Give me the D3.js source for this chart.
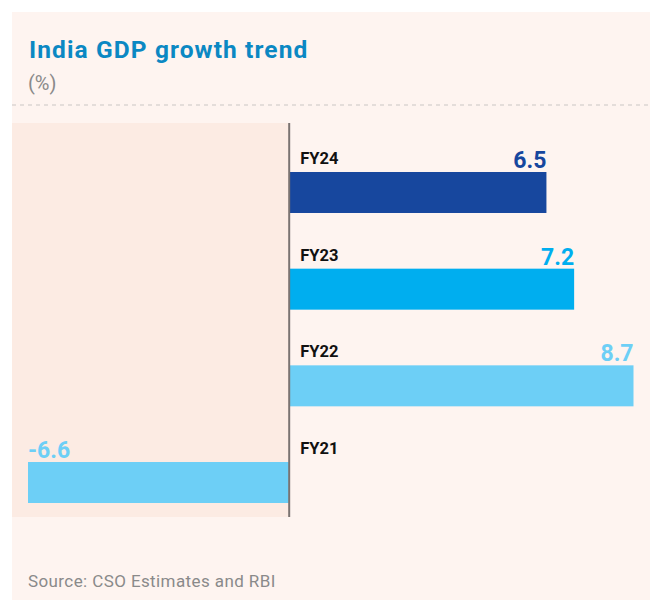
<!DOCTYPE html>
<html>
<head>
<meta charset="utf-8">
<script src="https://cdn.jsdelivr.net/npm/d3@7"></script>
<style>
  html, body { margin: 0; padding: 0; background: #ffffff; }
  svg { display: block; }
</style>
</head>
<body>
<svg id="chart" width="653" height="600"></svg>
<script>
// GDP growth by fiscal year, newest first
const years = ["FY24", "FY23", "FY22", "FY21"];
const growth = [6.5, 7.2, 8.7, -6.6];
const barColors = ["#17479e", "#00aeef", "#6dcff6", "#6dcff6"];

const svg = d3.select("#chart");
const font = "Roboto, 'Liberation Sans', Arial, sans-serif";

// card background
svg.append("rect")
  .attr("x", 12).attr("y", 12).attr("width", 638).attr("height", 588)
  .attr("fill", "#fef4f0");

// heading
svg.append("text")
  .attr("x", 29).attr("y", 58)
  .attr("font-family", font).attr("font-weight", 700).attr("font-size", 24.5)
  .attr("letter-spacing", 1.1)
  .attr("fill", "#0b88c3")
  .text("India GDP growth trend");

svg.append("text")
  .attr("x", 28).attr("y", 90)
  .attr("font-family", font).attr("font-size", 20)
  .attr("fill", "#8a8a8a")
  .text("(%)");

// dashed separator
svg.append("line")
  .attr("x1", 12).attr("x2", 650).attr("y1", 105).attr("y2", 105)
  .attr("stroke", "#c9c6c4").attr("stroke-width", 1.2)
  .attr("stroke-dasharray", "4,4");

// scales
const x = d3.scaleLinear()
  .domain([d3.min(growth), d3.max(growth)])
  .range([28, 633.5]);

const y = d3.scaleBand()
  .domain(years)
  .range([172, 503])
  .paddingInner(0.576)
  .paddingOuter(0);

const plotTop = 123, plotBottom = 517;

// shaded negative zone
svg.append("rect")
  .attr("x", 12).attr("y", plotTop)
  .attr("width", x(0) - 12).attr("height", plotBottom - plotTop)
  .attr("fill", "#fcebe3");

const data = years.map((yr, i) => ({ yr, v: growth[i], c: barColors[i] }));

// bars
svg.append("g").selectAll("rect")
  .data(data)
  .join("rect")
  .attr("x", d => x(Math.min(0, d.v)))
  .attr("y", d => y(d.yr))
  .attr("width", d => Math.abs(x(d.v) - x(0)))
  .attr("height", y.bandwidth())
  .attr("fill", d => d.c);

// zero axis
svg.append("line")
  .attr("x1", x(0)).attr("x2", x(0))
  .attr("y1", plotTop).attr("y2", plotBottom)
  .attr("stroke", "#7a7371").attr("stroke-width", 2);

// year labels
svg.append("g").selectAll("text")
  .data(data)
  .join("text")
  .attr("x", x(0) + 11)
  .attr("y", d => y(d.yr) - 8)
  .attr("font-family", font).attr("font-weight", 700).attr("font-size", 16.5)
  .attr("fill", "#111111")
  .text(d => d.yr);

// value labels
svg.append("g").selectAll("text")
  .data(data)
  .join("text")
  .attr("x", d => x(d.v))
  .attr("y", d => y(d.yr) - 4)
  .attr("text-anchor", d => d.v >= 0 ? "end" : "start")
  .attr("font-family", font).attr("font-weight", 700).attr("font-size", 23)
  .attr("fill", d => d.c)
  .text(d => d.v.toFixed(1));

// source note
svg.append("text")
  .attr("x", 28).attr("y", 587)
  .attr("font-family", font).attr("font-size", 17)
  .attr("letter-spacing", 0.4)
  .attr("fill", "#8a8a8a")
  .text("Source: CSO Estimates and RBI");
</script>
</body>
</html>
